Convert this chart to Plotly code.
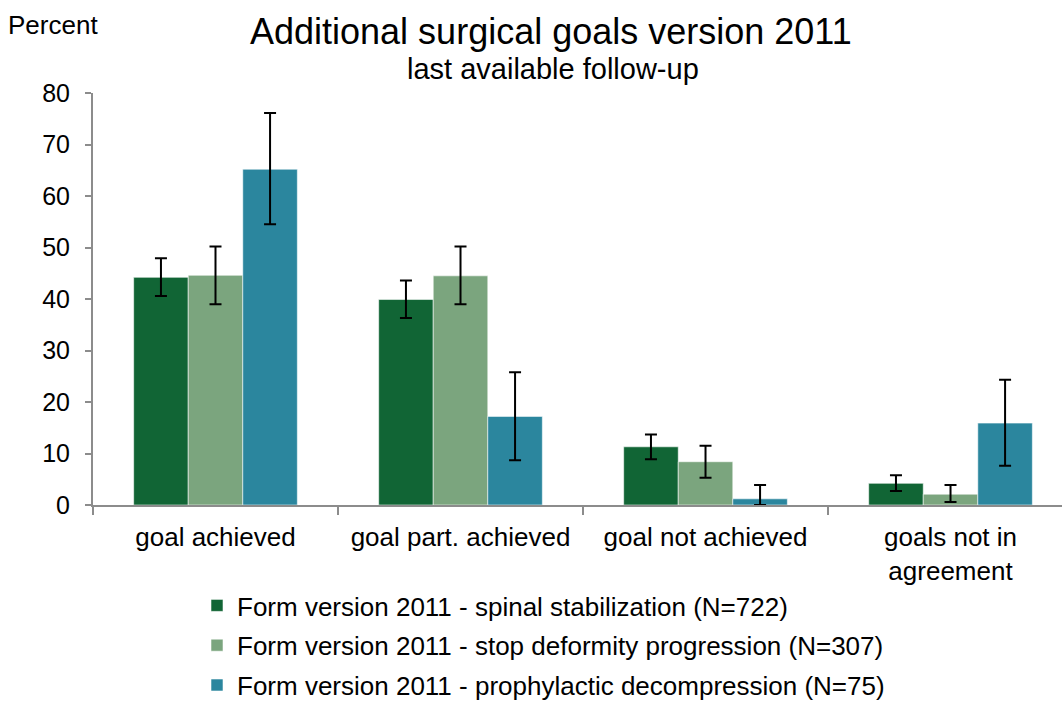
import plotly.graph_objects as go

# Categories on the x axis
categories = ["goal achieved", "goal part. achieved", "goal not achieved", "goals not in<br>agreement"]

# Series names
series_names = [
    "Form version 2011 - spinal stabilization (N=722)",
    "Form version 2011 - stop deformity progression (N=307)",
    "Form version 2011 - prophylactic decompression (N=75)",
]

# Percent values per series
stabilization = [44.2, 39.9, 11.3, 4.2]
deformity = [44.6, 44.5, 8.4, 2.1]
decompression = [65.2, 17.2, 1.2, 15.9]

# Confidence interval bounds (upper / lower) per series
stabilization_hi = [47.9, 43.6, 13.7, 5.8]
stabilization_lo = [40.6, 36.3, 8.9, 2.7]
deformity_hi = [50.2, 50.2, 11.5, 3.9]
deformity_lo = [39.0, 39.0, 5.3, 0.6]
decompression_hi = [76.1, 25.8, 3.9, 24.3]
decompression_lo = [54.5, 8.7, 0.0, 7.6]

colors = ["#116535", "#7BA57E", "#2B869E"]

series = [
    (stabilization, stabilization_hi, stabilization_lo),
    (deformity, deformity_hi, deformity_lo),
    (decompression, decompression_hi, decompression_lo),
]

FONT = "Liberation Sans, Arial, sans-serif"
W, H = 1062, 701

fig = go.Figure()
for i, ((vals, hi, lo), name) in enumerate(zip(series, series_names)):
    fig.add_trace(go.Bar(
        x=categories,
        y=vals,
        name=name,
        legendgroup=f"g{i}",
        marker=dict(color=colors[i], line=dict(color="rgba(255,255,255,0.55)", width=1)),
        error_y=dict(
            type="data",
            symmetric=False,
            array=[h - v for h, v in zip(hi, vals)],
            arrayminus=[v - l for v, l in zip(vals, lo)],
            color="black",
            thickness=2,
            width=6,
        ),
    ))

fig.update_layout(
    width=W,
    height=H,
    paper_bgcolor="white",
    plot_bgcolor="white",
    barmode="group",
    bargap=0.332,
    bargroupgap=0,
    margin=dict(l=93, r=0, t=93, b=196, autoexpand=False),
    font=dict(family=FONT, size=26, color="black"),
    showlegend=True,
    legend=dict(
        orientation="v",
        xref="container", yref="container",
        x=197 / W, y=1 - 582 / H,
        xanchor="left", yanchor="top",
        font=dict(family=FONT, size=26, color="black"),
        tracegroupgap=3,
        itemwidth=30,
        bgcolor="rgba(0,0,0,0)",
    ),
    annotations=[
        dict(text="Additional surgical goals version 2011", xref="paper", yref="paper",
             x=0.473, y=1.150, xanchor="center", yanchor="middle", showarrow=False,
             font=dict(family=FONT, size=36, color="black")),
        dict(text="last available follow-up", xref="paper", yref="paper",
             x=0.475, y=1.058, xanchor="center", yanchor="middle", showarrow=False,
             font=dict(family=FONT, size=29, color="black")),
        dict(text="Percent", xref="paper", yref="paper",
             x=-0.09, y=1.166, xanchor="left", yanchor="middle", showarrow=False,
             font=dict(family=FONT, size=26, color="black")),
    ],
)

fig.update_yaxes(
    range=[0, 80],
    dtick=10,
    showgrid=False,
    zeroline=False,
    showline=True,
    linecolor="#8C8C8C",
    linewidth=2,
    ticks="outside",
    ticklen=6,
    tickwidth=2,
    tickcolor="#8C8C8C",
    ticklabelstandoff=10,
    tickfont=dict(family=FONT, size=25, color="black"),
)

fig.update_xaxes(
    range=[-0.5, 3.455],
    showgrid=False,
    showline=True,
    linecolor="#8C8C8C",
    linewidth=2,
    ticks="outside",
    tickson="boundaries",
    ticklen=8,
    tickwidth=2,
    tickcolor="#8C8C8C",
    ticklabelstandoff=8,
    tickfont=dict(family=FONT, size=26, color="black"),
)

fig.write_html("out.html")
